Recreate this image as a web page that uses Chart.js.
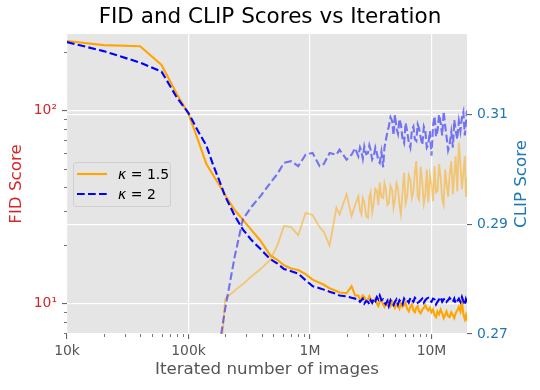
<!DOCTYPE html>
<html>
<head>
<meta charset="utf-8">
<script src="https://cdn.jsdelivr.net/npm/chart.js@4.4.1/dist/chart.umd.min.js"></script>
<style>
  html, body { margin: 0; padding: 0; background: #fff; }
  #wrap { position: relative; width: 540px; height: 390px; }
  #legend {
    position: absolute; left: 73px; top: 162px; width: 98px; height: 45px;
    box-sizing: border-box; background: #e5e5e5; border: 1px solid #cfcfcf; border-radius: 3px;
    font-family: 'DejaVu Sans', sans-serif; font-size: 14px; color: #000;
  }
  #legend svg { position: absolute; left: 3px; }
  #legend .lbl { position: absolute; left: 44px; white-space: nowrap; line-height: 16px; }
</style>
</head>
<body>
<div id="wrap">
  <canvas id="chart" width="540" height="390"></canvas>
  <div id="legend">
    <svg width="32" height="6" style="top:8px"><line x1="0" y1="3" x2="30" y2="3" stroke="#ffa500" stroke-width="2.1"/></svg>
    <span class="lbl" style="top:3px"><i>κ</i> = 1.5</span>
    <svg width="32" height="6" style="top:28px"><line x1="0" y1="3" x2="30" y2="3" stroke="#0000ff" stroke-width="2.1" stroke-dasharray="7.7 3.3"/></svg>
    <span class="lbl" style="top:23px"><i>κ</i> = 2</span>
  </div>
</div>
<script>
// --- DATOS ---
const iters = [
  1e4, 2e4, 4e4, 6e4, 8e4, 1e5, 1.2e5, 1.4e5, 1.6e5, 1.8e5,
  2e5, 2.4e5, 2.8e5, 3.3e5, 3.9e5, 4.7e5, 5.4e5, 6.1e5, 7e5, 8e5,
  9.2e5, 1.05e6, 1.2e6, 1.3e6, 1.45e6, 1.65e6, 1.75e6, 2e6, 2.2e6, 2.35e6,
  2.5e6, 2.58e6, 2.65e6, 2.72e6, 2.8e6, 2.9e6, 3e6, 3.08e6, 3.15e6, 3.25e6,
  3.35e6, 3.45e6, 3.55e6, 3.65e6, 3.75e6, 3.87e6, 4e6, 4.1e6, 4.2e6, 4.33e6,
  4.45e6, 4.6e6, 4.75e6, 4.87e6, 5e6, 5.15e6, 5.3e6, 5.45e6, 5.6e6, 5.78e6,
  5.95e6, 6.12e6, 6.3e6, 6.5e6, 6.7e6, 6.9e6, 7.1e6, 7.3e6, 7.5e6, 7.7e6,
  7.9e6, 8.15e6, 8.4e6, 8.65e6, 8.9e6, 9.15e6, 9.4e6, 9.7e6, 1e7, 1.03e7,
  1.06e7, 1.09e7, 1.12e7, 1.155e7, 1.19e7, 1.225e7, 1.26e7, 1.295e7, 1.33e7, 1.37e7,
  1.41e7, 1.455e7, 1.5e7, 1.54e7, 1.58e7, 1.63e7, 1.68e7, 1.73e7, 1.78e7, 1.83e7,
  1.88e7, 1.92e7, 1.96e7
];

// FID, kappa = 1.5
const fidK15 = [
  229, 218, 215, 172, 122, 96, 70, 53, 46, 41,
  36.5, 30.5, 27.2, 24, 21.2, 17.8, 16.8, 15.8, 15.2, 14.9,
  14.2, 13.3, 12.8, 12.5, 12.0, 11.6, 11.4, 11.3, 12.3, 11.0,
  11.0, 10.4, 10.6, 11.0, 10.8, 10.3, 10.5, 10.9, 10.6, 10.1,
  10.3, 10.6, 10.0, 9.7, 10.2, 10.4, 9.9, 9.6, 10.0, 9.8,
  10.3, 9.7, 10.2, 9.9, 9.5, 9.9, 9.7, 9.4, 10.0, 9.6,
  9.8, 10.1, 9.4, 9.1, 9.6, 9.9, 9.2, 9.0, 9.5, 9.7,
  9.1, 8.9, 9.3, 9.5, 9.8, 9.4, 9.2, 9.5, 9.0, 9.3,
  8.7, 8.5, 9.1, 8.8, 9.3, 8.9, 8.4, 8.7, 9.1, 8.6,
  8.5, 9.0, 8.7, 8.4, 8.9, 9.2, 9.6, 9.1, 10.3, 8.8,
  8.3, 8.7, 8.1
];

// FID, kappa = 2
const fidK2 = [
  226, 203, 177, 159, 117, 97, 78, 66, 52, 43,
  36, 28.5, 24.2, 21.3, 19.2, 17.0, 16.1, 15.1, 14.7, 14.3,
  13.2, 12.3, 12.0, 11.8, 11.5, 11.2, 11.0, 10.9, 10.7, 10.6,
  10.5, 10.2, 10.4, 10.6, 10.0, 10.3, 10.2, 9.9, 10.4, 10.1,
  10.6, 10.3, 10.8, 10.5, 11.0, 10.4, 10.5, 10.1, 9.9, 10.3,
  9.7, 10.4, 10.0, 9.8, 10.2, 10.5, 9.9, 10.4, 10.2, 9.9,
  10.6, 10.3, 10.4, 10.1, 10.7, 10.4, 10.2, 10.7, 10.5, 10.1,
  10.2, 10.4, 10.6, 10.1, 10.4, 10.6, 10.7, 10.3, 10.2, 10.6,
  10.5, 9.9, 10.2, 10.5, 10.8, 10.2, 10.5, 10.6, 10.2, 10.4,
  10.7, 10.4, 10.2, 10.6, 10.0, 10.3, 10.6, 10.2, 10.8, 10.3,
  9.8, 10.5, 10.1
];

// CLIP, kappa = 1.5
const clipK15 = [
  null, null, null, null, null, null, null, null, null, 0.262,
  0.2764, 0.2779, 0.2791, 0.2805, 0.2818, 0.2835, 0.2862, 0.2897, 0.2895, 0.2880,
  0.2921, 0.2917, 0.2895, 0.2886, 0.2861, 0.2930, 0.2918, 0.2955, 0.2915, 0.2935,
  0.2951, 0.2925, 0.2918, 0.2948, 0.2940, 0.2915, 0.2912, 0.2950, 0.2958, 0.2922,
  0.2940, 0.2965, 0.2962, 0.2935, 0.2976, 0.2950, 0.2948, 0.2975, 0.2966, 0.2935,
  0.2938, 0.2970, 0.2962, 0.2930, 0.2945, 0.2975, 0.2966, 0.2935, 0.2918, 0.2960,
  0.2994, 0.2938, 0.2950, 0.2990, 0.2982, 0.2948, 0.2960, 0.2995, 0.3015, 0.2950,
  0.2945, 0.3005, 0.2976, 0.2938, 0.2955, 0.3000, 0.2940, 0.2990, 0.2972, 0.2942,
  0.3006, 0.2958, 0.2960, 0.3010, 0.2985, 0.2945, 0.2935, 0.3000, 0.2975, 0.2950,
  0.2990, 0.3015, 0.2955, 0.2990, 0.3024, 0.2960, 0.3049, 0.3010, 0.2964, 0.2995,
  0.3024, 0.2950, 0.2985
];

// CLIP, kappa = 2
const clipK2 = [
  null, null, null, null, null, null, null, null, null, 0.268,
  0.2745, 0.2841, 0.2909, 0.2932, 0.2951, 0.2975, 0.2992, 0.3012, 0.3015, 0.3006,
  0.3027, 0.3030, 0.3006, 0.3010, 0.3030, 0.3027, 0.3036, 0.3018, 0.3027, 0.3039,
  0.3024, 0.3040, 0.3033, 0.3020, 0.3042, 0.3028, 0.3030, 0.3044, 0.3036, 0.3018,
  0.3024, 0.3040, 0.3030, 0.3016, 0.3012, 0.3032, 0.3004, 0.3040, 0.3052, 0.3068,
  0.3078, 0.3095, 0.3088, 0.3062, 0.3100, 0.3075, 0.3065, 0.3092, 0.3082, 0.3055,
  0.3048, 0.3085, 0.3070, 0.3050, 0.3040, 0.3072, 0.3078, 0.3055, 0.3052, 0.3082,
  0.3075, 0.3058, 0.3045, 0.3078, 0.3070, 0.3040, 0.3045, 0.3070, 0.3025, 0.3080,
  0.3097, 0.3060, 0.3070, 0.3100, 0.3085, 0.3062, 0.3106, 0.3080, 0.3060, 0.3035,
  0.3045, 0.3068, 0.3040, 0.3090, 0.3072, 0.3055, 0.3088, 0.3070, 0.3095, 0.3105,
  0.3062, 0.3085, 0.3108
];

// ticks
const xMajor = [1e4, 1e5, 1e6, 1e7];
const xMajorLabels = ['10k', '100k', '1M', '10M'];
const xMinor = [2e4, 3e4, 4e4, 5e4, 6e4, 7e4, 8e4, 9e4, 2e5, 3e5, 4e5, 5e5, 6e5, 7e5, 8e5, 9e5,
                2e6, 3e6, 4e6, 5e6, 6e6, 7e6, 8e6, 9e6];
const fidMajor = [10, 100];
const fidMajorLabels = ['10¹', '10²'];
const fidMinor = [7, 8, 9, 20, 30, 40, 50, 60, 70, 80, 90, 200];
const clipTicks = [0.27, 0.29, 0.31];
const clipTickLabels = ['0.27', '0.29', '0.31'];

const FONT = "'DejaVu Sans', sans-serif";
const RED = '#d62728';
const BLUE_T = '#1f77b4';
const GREY = '#555555';

const pts = (ys) => iters.map((x, i) => ({ x: x, y: ys[i] }));
const isMajor = (list, v) => list.some(m => Math.abs(m - v) / m < 1e-6);

// fondo gris estilo ggplot
const bgPlugin = {
  id: 'bg',
  beforeDraw(chart) {
    const { ctx, chartArea: a } = chart;
    ctx.save();
    ctx.fillStyle = '#e5e5e5';
    ctx.fillRect(a.left, a.top, a.right - a.left, a.bottom - a.top);
    ctx.restore();
  }
};

// minor ticks cortos + titulo del eje derecho (de abajo hacia arriba)
const extrasPlugin = {
  id: 'extras',
  afterDraw(chart) {
    const { ctx, chartArea: a, scales } = chart;
    ctx.save();
    ctx.strokeStyle = GREY;
    ctx.lineWidth = 0.8;
    xMinor.forEach(v => {
      const px = Math.round(scales.x.getPixelForValue(v)) + 0.5;
      ctx.beginPath(); ctx.moveTo(px, a.bottom); ctx.lineTo(px, a.bottom + 3); ctx.stroke();
    });
    fidMinor.forEach(v => {
      const py = Math.round(scales.y.getPixelForValue(v)) + 0.5;
      ctx.beginPath(); ctx.moveTo(a.left - 3, py); ctx.lineTo(a.left, py); ctx.stroke();
    });
    ctx.translate(522, (a.top + a.bottom) / 2);
    ctx.rotate(-Math.PI / 2);
    ctx.fillStyle = BLUE_T;
    ctx.font = '16.7px ' + FONT;
    ctx.textAlign = 'center';
    ctx.textBaseline = 'middle';
    ctx.fillText('CLIP Score', 0, 0);
    ctx.restore();
  }
};

const ctx = document.getElementById('chart');
new Chart(ctx, {
  type: 'line',
  data: {
    datasets: [
      { data: pts(clipK2), yAxisID: 'y2', borderColor: 'rgba(0,0,255,0.5)', borderWidth: 2.1,
        borderDash: [7.7, 3.3], pointRadius: 0, tension: 0, spanGaps: false },
      { data: pts(clipK15), yAxisID: 'y2', borderColor: 'rgba(255,165,0,0.5)', borderWidth: 1.8,
        pointRadius: 0, tension: 0, spanGaps: false },
      { data: pts(fidK2), yAxisID: 'y', borderColor: '#0000ff', borderWidth: 2.1,
        borderDash: [7.7, 3.3], pointRadius: 0, tension: 0 },
      { data: pts(fidK15), yAxisID: 'y', borderColor: '#ffa500', borderWidth: 2.1,
        pointRadius: 0, tension: 0 }
    ]
  },
  options: {
    responsive: false,
    animation: false,
    layout: { padding: 0 },
    plugins: {
      legend: { display: false },
      tooltip: { enabled: false },
      title: {
        display: true,
        text: 'FID and CLIP Scores vs Iteration',
        color: '#000',
        font: { family: FONT, size: 21.5, weight: 'normal' },
        padding: { top: 5, bottom: 3.2 }
      }
    },
    scales: {
      x: {
        type: 'logarithmic',
        min: 1e4, max: 1.96e7,
        afterBuildTicks: (s) => { s.ticks = xMajor.map(v => ({ value: v })); },
        afterFit: (s) => { s.height = 56; },
        border: { display: false },
        grid: { color: '#fff', lineWidth: 1.2, tickLength: 5, tickColor: GREY, tickWidth: 1 },
        ticks: {
          autoSkip: false, maxRotation: 0, padding: 4, color: GREY,
          font: { family: FONT, size: 13.9 },
          callback: (v) => xMajorLabels[xMajor.findIndex(m => isMajor([m], v))] || ''
        },
        title: {
          display: true, text: 'Iterated number of images', color: GREY,
          font: { family: FONT, size: 16.7 }, padding: { top: 10, bottom: 10 }
        }
      },
      y: {
        type: 'logarithmic',
        position: 'left',
        min: 6.95, max: 249,
        afterBuildTicks: (s) => { s.ticks = fidMajor.map(v => ({ value: v })); },
        afterFit: (s) => { s.width = 67; },
        border: { display: false },
        grid: { color: '#fff', lineWidth: 1.2, tickLength: 5, tickColor: GREY, tickWidth: 1 },
        ticks: {
          autoSkip: false, padding: 5, color: RED,
          font: { family: FONT, size: 13.9 },
          callback: (v) => fidMajorLabels[fidMajor.findIndex(m => isMajor([m], v))] || ''
        },
        title: {
          display: true, text: 'FID Score', color: RED,
          font: { family: FONT, size: 16.7 }, padding: { top: 7, bottom: 7 }
        }
      },
      y2: {
        type: 'linear',
        position: 'right',
        min: 0.27, max: 0.3247,
        afterBuildTicks: (s) => { s.ticks = clipTicks.map(v => ({ value: v })); },
        afterFit: (s) => { s.width = 73; },
        border: { display: false },
        grid: { color: '#fff', lineWidth: 1.2, tickLength: 5, tickColor: GREY, tickWidth: 1 },
        ticks: {
          autoSkip: false, padding: 5, color: BLUE_T,
          font: { family: FONT, size: 13.9 },
          callback: (v) => clipTickLabels[clipTicks.findIndex(m => Math.abs(m - v) < 1e-6)] || ''
        }
      }
    }
  },
  plugins: [bgPlugin, extrasPlugin]
});
</script>
</body>
</html>
